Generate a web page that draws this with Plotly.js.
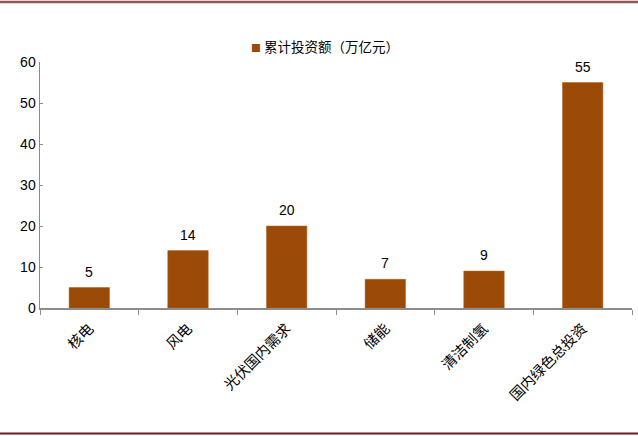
<!DOCTYPE html>
<html>
<head>
<meta charset="utf-8">
<script src="https://cdn.plot.ly/plotly-3.0.1.min.js"></script>
<style>html,body{margin:0;padding:0;background:#fff;}#chart{width:638px;height:436px;}</style>
</head>
<body>
<div id="chart"></div>
<script>
const categories = ["核电", "风电", "光伏国内需求", "储能", "清洁制氢", "国内绿色总投资"];
const values = [5, 14, 20, 7, 9, 55];
const seriesName = "累计投资额（万亿元）";
const yTicks = [0, 10, 20, 30, 40, 50, 60];

const cjk = '"Noto Sans CJK SC", "Noto Sans", sans-serif';
const num = 'Arial, "Liberation Sans", sans-serif';
const barColor = '#9C4A08';

const trace = {
  type: 'bar',
  x: categories,
  y: values,
  name: seriesName,
  marker: {color: barColor, line: {color: '#B0601A', width: 0.5}},
  width: 0.41,
  showlegend: false
};

const valueLabels = categories.map((c, i) => ({
  x: c, y: values[i], xref: 'x', yref: 'y',
  text: String(values[i]), showarrow: false,
  yanchor: 'bottom', yshift: 6,
  font: {family: num, size: 14, color: '#000'}
}));

const legendNote = {
  xref: 'paper', yref: 'paper', x: 0.481, y: (308 - 46) / 246,
  xanchor: 'center', yanchor: 'middle', showarrow: false,
  text: '<span style="color:' + barColor + ';font-size:10px">■</span> ' + seriesName,
  font: {family: cjk, size: 13.5, color: '#000'}
};

const layout = {
  width: 638, height: 436,
  margin: {l: 40, r: 6, t: 62, b: 128},
  paper_bgcolor: '#fff', plot_bgcolor: '#fff',
  showlegend: false,
  xaxis: {
    type: 'category',
    tickangle: -45,
    tickfont: {family: cjk, size: 14.5, color: '#000'},
    ticklabelstandoff: 5,
    showline: true, linecolor: '#8C8C8C', linewidth: 1.5,
    ticks: 'outside', tickson: 'boundaries', ticklen: 5, tickcolor: '#8C8C8C',
    showgrid: false, zeroline: false
  },
  yaxis: {
    range: [0, 60],
    tickvals: yTicks,
    ticktext: yTicks.map(String),
    tickfont: {family: num, size: 14, color: '#000'},
    showline: true, linecolor: '#8C8C8C', linewidth: 1.5,
    ticks: 'inside', ticklen: 3, tickcolor: '#8C8C8C',
    showgrid: false, zeroline: false
  },
  annotations: valueLabels.concat([legendNote]),
  shapes: [
    {type: 'line', xref: 'paper', yref: 'paper', x0: -0.07, x1: 1.02, y0: (308-2)/246, y1: (308-2)/246,
     line: {color: '#8E5A5A', width: 2.5}},
    {type: 'line', xref: 'paper', yref: 'paper', x0: -0.07, x1: 1.02, y0: (308-433.5)/246, y1: (308-433.5)/246,
     line: {color: '#6B1A22', width: 2}}
  ]
};

Plotly.newPlot('chart', [trace], layout, {displayModeBar: false, staticPlot: true});
</script>
</body>
</html>
